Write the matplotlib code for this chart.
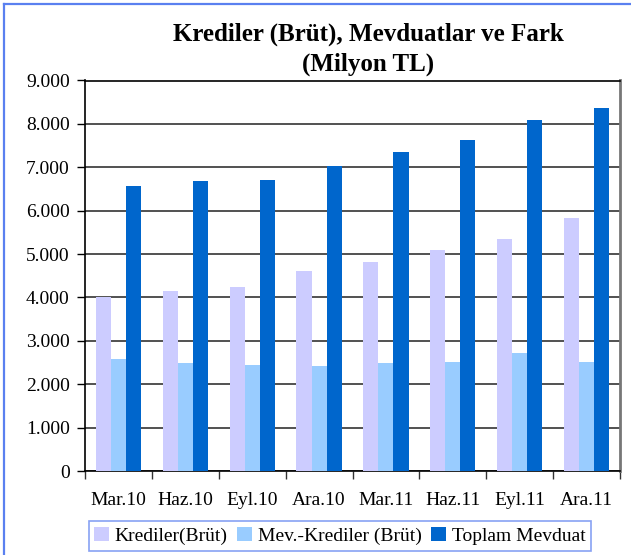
import matplotlib
matplotlib.use("Agg")
import matplotlib.pyplot as plt
from matplotlib.lines import Line2D
import numpy as np

categories = ["Mar.10", "Haz.10", "Eyl.10", "Ara.10", "Mar.11", "Haz.11", "Eyl.11", "Ara.11"]
krediler = [4010, 4160, 4240, 4610, 4820, 5090, 5340, 5830]
mev_krediler = [2570, 2500, 2450, 2410, 2500, 2520, 2730, 2520]
toplam = [6580, 6680, 6700, 7030, 7350, 7620, 8080, 8360]
series_names = ["Krediler(Brüt)", "Mev.-Krediler (Brüt)", "Toplam Mevduat"]
colors = ["#CCCCFF", "#99CCFF", "#0066CC"]
yticks = [0, 1000, 2000, 3000, 4000, 5000, 6000, 7000, 8000, 9000]
ytick_labels = ["0", "1.000", "2.000", "3.000", "4.000", "5.000", "6.000", "7.000", "8.000", "9.000"]
title = "Krediler (Brüt), Mevduatlar ve Fark\n(Milyon TL)"

plt.rcParams["font.family"] = ["Liberation Serif", "DejaVu Serif"]

W, H = 631, 555
fig = plt.figure(figsize=(W / 100, H / 100), dpi=100)
ax = fig.add_axes([85 / W, 1 - 471 / H, (620 - 85) / W, (471 - 80.5) / H])

x = np.arange(len(categories))
bw = 0.225
for i, (vals, name, c) in enumerate(zip([krediler, mev_krediler, toplam], series_names, colors)):
    ax.bar(x + (i - 1) * bw, vals, width=bw, color=c, label=name, zorder=3)

fs = 14
ax.set_xlim(-0.5, len(categories) - 0.5)
ax.set_ylim(0, 9000)
ax.set_yticks(yticks)
ax.set_yticklabels(ytick_labels, fontsize=fs)
ax.set_xticks(np.arange(len(categories) + 1) - 0.5, minor=False)
ax.set_xticklabels([])
ax.set_xticks(x, minor=True)
ax.set_xticklabels(categories, minor=True, fontsize=fs)
ax.tick_params(axis="x", which="minor", length=0, pad=15)
ax.tick_params(axis="x", which="major", direction="out", length=6, width=1, color="#333333")
ax.tick_params(axis="y", direction="out", length=6, width=1, pad=5)
ax.yaxis.grid(True, color="#222222", linewidth=1.1, zorder=0)
ax.set_axisbelow(True)
for s in ["left", "bottom", "top"]:
    ax.spines[s].set_color("black")
    ax.spines[s].set_linewidth(1.2)
ax.spines["right"].set_color("#777777")
ax.spines["right"].set_linewidth(2)

fig.text(368 / W, 1 - 49 / H, title, ha="center", va="center", fontsize=18,
         fontweight="bold", linespacing=1.38)

leg = fig.legend(loc="center", bbox_to_anchor=(340 / W, 1 - 536 / H), ncol=3,
                 fontsize=fs, frameon=True, fancybox=False, handlelength=0.75,
                 handleheight=0.75, handletextpad=0.3, columnspacing=0.5,
                 borderpad=0.3, borderaxespad=0)
leg.get_frame().set_edgecolor("#6A8AF0")
leg.get_frame().set_linewidth(1.2)

border_c = "#5A80F0"
fig.add_artist(Line2D([3.7 / W, 1.0], [1 - 3.7 / H, 1 - 3.7 / H], transform=fig.transFigure,
                      color=border_c, linewidth=1.6))
fig.add_artist(Line2D([3.7 / W, 3.7 / W], [0, 1 - 3.7 / H], transform=fig.transFigure,
                      color=border_c, linewidth=1.6))

fig.savefig("out.png", dpi=100)
